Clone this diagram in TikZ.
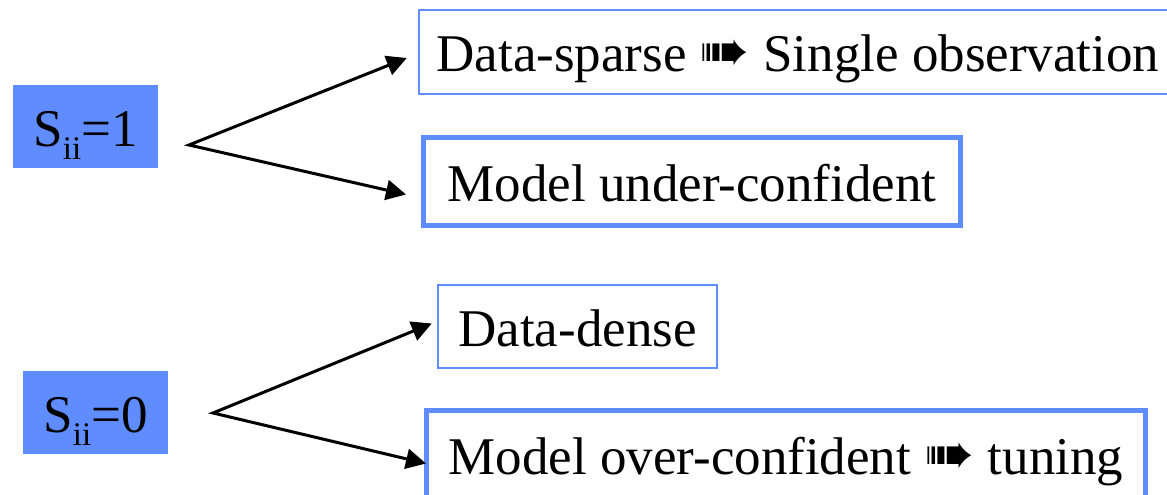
\documentclass[tikz,border=0pt]{standalone}
\usepackage{fontspec}
\setmainfont{Liberation Serif}
\newfontfamily\dingfont{DejaVu Sans}
\usetikzlibrary{arrows.meta}
\definecolor{boxblue}{RGB}{95,140,255}
\newcommand{\goesto}{{\dingfont\fontsize{60}{60}\selectfont ➠}}
\newcommand{\sii}{S\raisebox{-13pt}{\fontsize{33}{33}\selectfont ii}}

\begin{document}
\begin{tikzpicture}[x=1pt, y=-1pt,
	every node/.style={font=\fontsize{53}{60}\selectfont, inner sep=0pt,
		text height=39pt, text depth=0pt},
	outcome/.style={rectangle, draw=boxblue, line width=2.5pt},
	strong/.style={outcome, line width=5pt},
	state/.style={rectangle, fill=boxblue,
		minimum width=145pt, minimum height=83pt},
	arr/.style={line width=3pt,
		{Triangle[length=20pt, width=20pt]}-{Triangle[length=20pt, width=20pt]}}]
\clip (0,0) rectangle (1167,495);
% states on the left
\node[state] (one) at (85.5,126.5) {\sii=1};
\node[state] (zero) at (95.5,412.5) {\sii=0};
% outcomes on the right
\node[outcome,
	minimum width = 758pt,
	minimum height = 84pt] (sparse) at (798,52) {Data-sparse \goesto{} Single observation};
\node[strong,
	minimum width = 537pt,
	minimum height = 88pt] (under) at (692,181.5) {Model under-confident};
\node[outcome,
	minimum width = 279pt,
	minimum height = 83pt] (dense) at (577.5,326.5) {Data-dense};
\node[strong,
	minimum width = 719pt,
	minimum height = 88pt] (over) at (786,454.5) {Model over-confident \goesto{} tuning};
% forks
\coordinate (fork1) at (189,145);
\coordinate (fork0) at (213,413);
\draw[arr] ([xshift=-11pt, yshift=-6pt]sparse.west) -- (fork1)
	-- ([xshift=-15pt, yshift=-13pt]under.west);
\draw[arr] ([xshift=-5pt, yshift=3pt]dense.west) -- (fork0)
	-- ([xshift=2pt, yshift=-9pt]over.west);
\end{tikzpicture}
\end{document}
